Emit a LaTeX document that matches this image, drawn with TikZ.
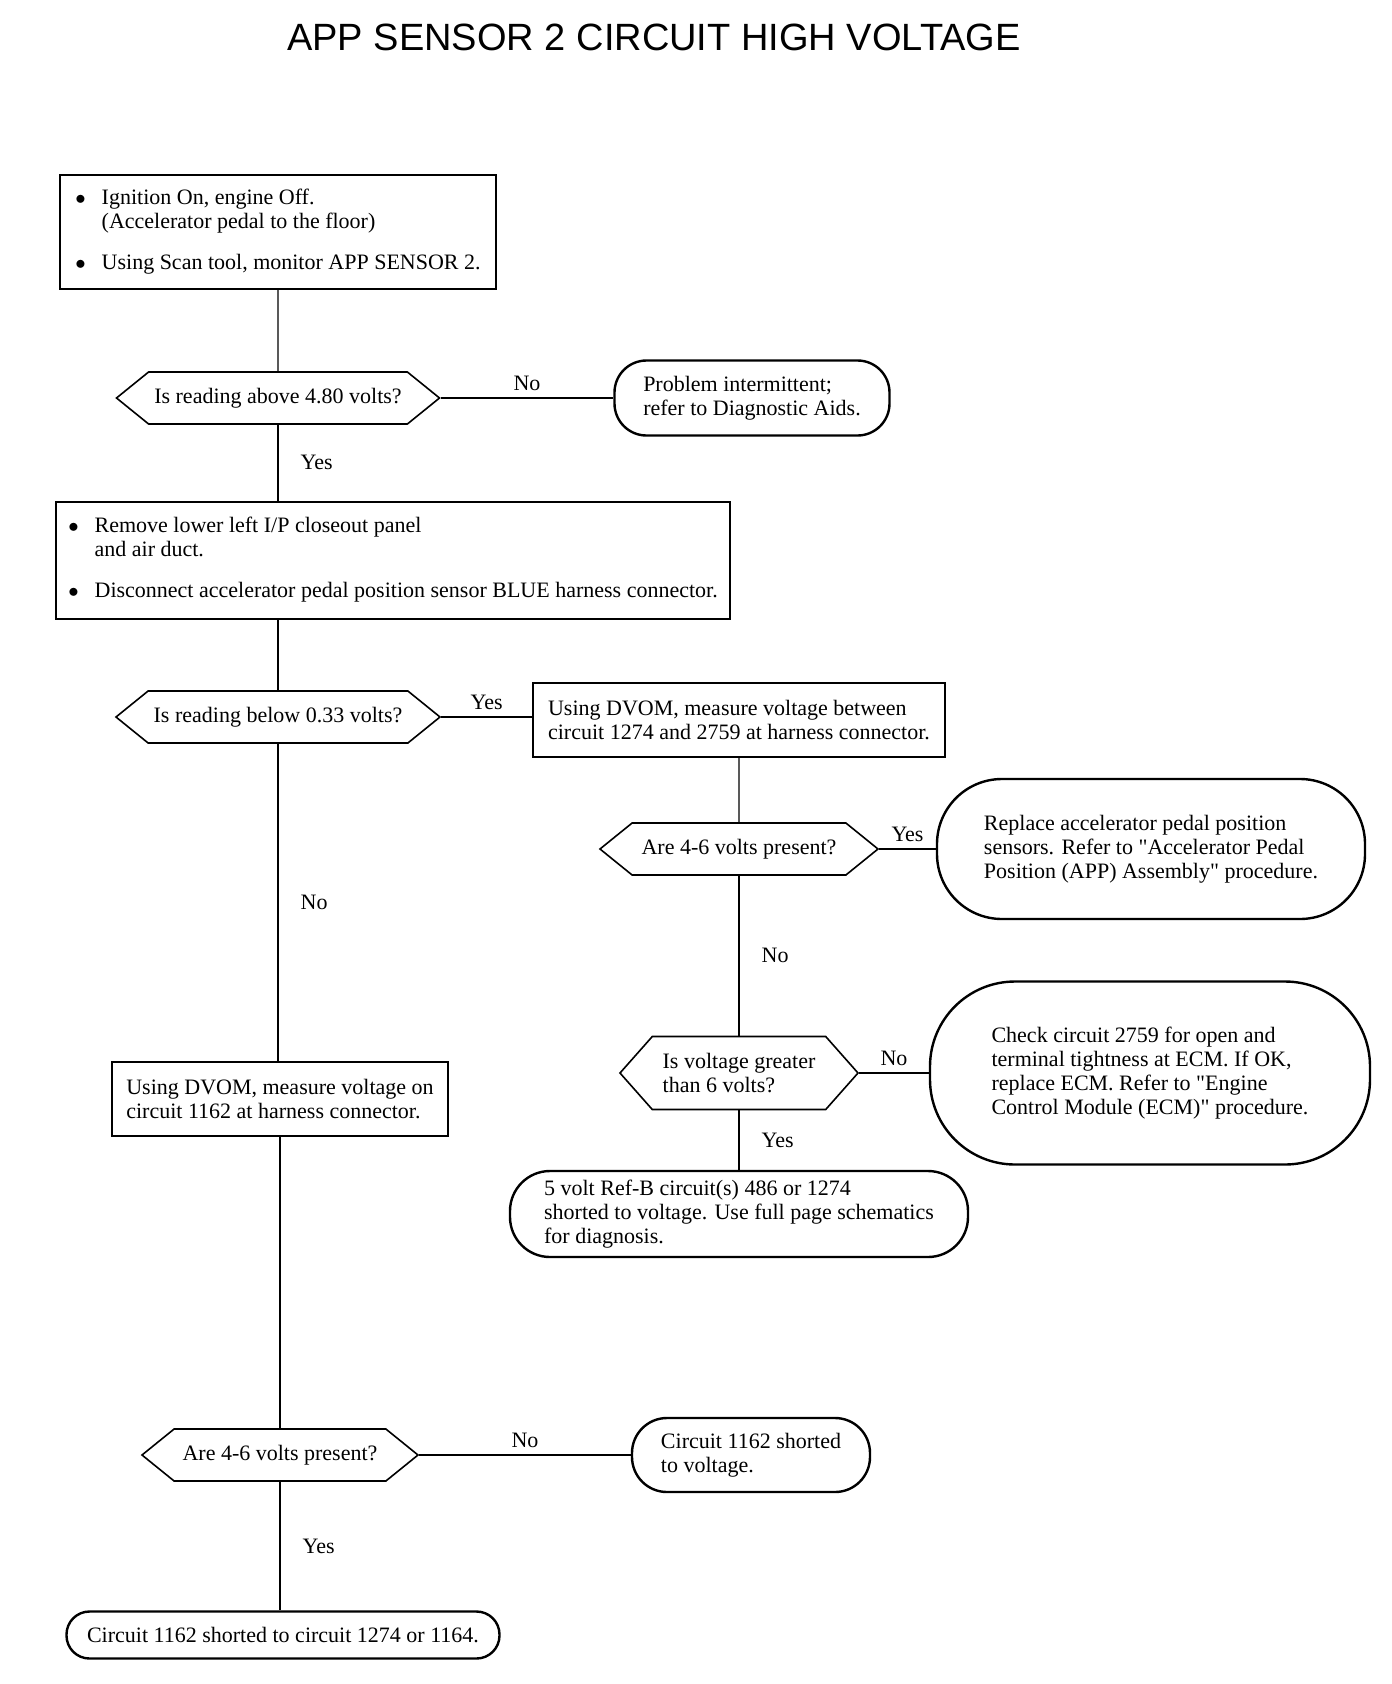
\documentclass[tikz,border=0pt]{standalone}
\usepackage{fontspec}
\setmainfont{Liberation Serif}
\newfontfamily\headfont{Liberation Sans}
\usetikzlibrary{shapes.symbols}
\newcommand{\itemdot}{$\bullet$}
\begin{document}
\begin{tikzpicture}[x=1pt,y=-1pt,
    every node/.style={font=\fontsize{22}{24}\selectfont},
    stepbox/.style={draw,line width=2pt,align=left,inner sep=0pt},
    ask/.style={draw,line width=1.6pt,signal,signal to=west and east,signal pointer angle=78,
      align=left,inner sep=0pt,minimum height=52pt},
    stopbox/.style={draw,line width=2.4pt,align=left,inner sep=0pt},
    wire/.style={line width=1.3pt},
    ans/.style={inner sep=2pt}]
  \useasboundingbox (0,0) rectangle (1392,1684);
  \node[font=\headfont\fontsize{38}{40}\selectfont] (title) at (654,37) {APP SENSOR 2 CIRCUIT HIGH VOLTAGE};
  \node[stepbox,minimum width=436pt,minimum height=114pt] (start) at (278,232)
    {\begin{tabular}{@{}l@{\hspace{16pt}}l@{}}
      \itemdot & Ignition On, engine Off.\\
               & (Accelerator pedal to the floor)\\[17pt]
      \itemdot & Using Scan tool, monitor APP SENSOR 2.
     \end{tabular}};
  \node[ask,minimum width=323pt] (ask1) at (278,398) {Is reading above 4.80 volts?};
  \node[stopbox,rounded corners=32pt,minimum width=275pt,minimum height=75pt] (stop1) at (752,398)
    {Problem intermittent;\\refer to Diagnostic Aids.};
  \node[stepbox,minimum width=674pt,minimum height=117pt] (prep) at (393,560)
    {\begin{tabular}{@{}l@{\hspace{16pt}}l@{}}
      \itemdot & Remove lower left I/P closeout panel\\
               & and air duct.\\[17pt]
      \itemdot & Disconnect accelerator pedal position sensor BLUE harness connector.
     \end{tabular}};
  \node[ask,minimum width=324pt] (ask2) at (278,717) {Is reading below 0.33 volts?};
  \node[stepbox,minimum width=412pt,minimum height=74pt] (meas1) at (739,720)
    {Using DVOM, measure voltage between\\circuit 1274 and 2759 at harness connector.};
  \node[ask,minimum width=278pt] (ask3) at (739,849) {Are 4-6 volts present?};
  \node[stopbox,rounded corners=65pt,minimum width=428pt,minimum height=140pt] (stop2) at (1151,849)
    {Replace accelerator pedal position\\sensors. Refer to \textquotedbl Accelerator Pedal\\Position (APP) Assembly\textquotedbl{} procedure.};
  \node[ask,signal pointer angle=97,minimum width=238pt,minimum height=73pt] (ask4) at (739,1073)
    {Is voltage greater\\than 6 volts?};
  \node[stopbox,rounded corners=85pt,minimum width=440pt,minimum height=183pt] (stop3) at (1150,1073)
    {Check circuit 2759 for open and\\terminal tightness at ECM. If OK,\\replace ECM. Refer to \textquotedbl Engine\\Control Module (ECM)\textquotedbl{} procedure.};
  \node[stopbox,rounded corners=40pt,minimum width=458pt,minimum height=86pt] (stop4) at (739,1214)
    {5 volt Ref-B circuit(s) 486 or 1274\\shorted to voltage. Use full page schematics\\for diagnosis.};
  \node[stepbox,minimum width=336pt,minimum height=74pt] (meas2) at (280,1099)
    {Using DVOM, measure voltage on\\circuit 1162 at harness connector.};
  \node[ask,minimum width=276pt] (ask5) at (280,1455) {Are 4-6 volts present?};
  \node[stopbox,rounded corners=35pt,minimum width=238pt,minimum height=74pt] (stop5) at (751,1455)
    {Circuit 1162 shorted\\to voltage.};
  \node[stopbox,rounded corners=23pt,minimum width=433pt,minimum height=47pt] (stop6) at (283,1635)
    {Circuit 1162 shorted to circuit 1274 or 1164.};
  \draw[wire] (start) -- (ask1);
  \draw[wire] (ask1.east) -- (stop1.west) node[ans,midway,above=5pt] {No};
  \draw[wire] (ask1.south) -- (ask1.south |- prep.north) node[ans,midway,right=20pt] {Yes};
  \draw[wire] (ask2.north |- prep.south) -- (ask2.north);
  \draw[wire] (ask2.east) -- (meas1.west |- ask2.east) node[ans,midway,above=5pt] {Yes};
  \draw[wire] (ask2.south) -- (ask2.south |- meas2.north) node[ans,midway,right=20pt] {No};
  \draw[wire] (meas1) -- (ask3);
  \draw[wire] (ask3.east) -- (stop2.west) node[ans,midway,above=5pt] {Yes};
  \draw[wire] (ask3.south) -- (ask4.north) node[ans,midway,right=20pt] {No};
  \draw[wire] (ask4.east) -- (stop3.west) node[ans,midway,above=5pt] {No};
  \draw[wire] (ask4.south) -- (stop4.north) node[ans,midway,right=20pt] {Yes};
  \draw[wire] (meas2.south -| ask5) -- (ask5.north);
  \draw[wire] (ask5.east) -- (stop5.west) node[ans,midway,above=5pt] {No};
  \draw[wire] (ask5.south) -- (ask5.south |- stop6.north) node[ans,midway,right=20pt] {Yes};
\end{tikzpicture}
\end{document}
